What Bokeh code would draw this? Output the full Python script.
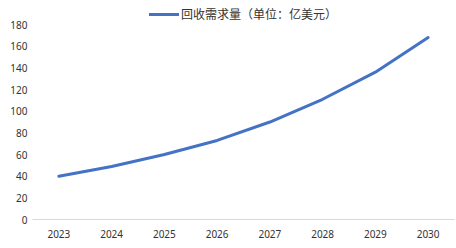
from bokeh.plotting import figure
from bokeh.models import Legend, LegendItem, Range1d
from bokeh.embed import file_html
from bokeh.resources import INLINE

years = ["2023", "2024", "2025", "2026", "2027", "2028", "2029", "2030"]
demand = [40, 49, 60, 73, 90, 111, 136, 168]
series_name = "回收需求量（单位：亿美元）"
y_ticks = [0, 20, 40, 60, 80, 100, 120, 140, 160, 180]

# frame extends above the 180 line to hold the legend
p = figure(width=456, height=248, x_range=years, y_range=Range1d(0, 198.5),
           output_backend="svg", toolbar_location=None,
           min_border_left=32, min_border_right=2, min_border_top=4, min_border_bottom=29)
p.outline_line_color = None
p.background_fill_color = "white"
p.border_fill_color = "white"
p.xgrid.grid_line_color = None
p.ygrid.grid_line_color = None

r = p.line(years, demand, line_color="#4472C4", line_width=3, line_join="round", line_cap="round")

p.yaxis.ticker = y_ticks
p.yaxis.axis_line_color = None
p.yaxis.major_tick_line_color = None
p.yaxis.minor_tick_line_color = None
p.yaxis.major_tick_in = 0
p.yaxis.major_tick_out = 0
p.yaxis.major_label_standoff = 5
p.yaxis.major_label_text_font = "Noto Sans"
p.yaxis.major_label_text_font_size = "10px"
p.yaxis.major_label_text_color = "#333333"

p.xaxis.axis_line_color = "#D9D9D9"
p.xaxis.axis_line_width = 1
p.xaxis.major_tick_line_color = None
p.xaxis.minor_tick_line_color = None
p.xaxis.major_tick_in = 0
p.xaxis.major_tick_out = 0
p.xaxis.major_label_standoff = 10
p.xaxis.major_label_text_font = "Noto Sans"
p.xaxis.major_label_text_font_size = "10px"
p.xaxis.major_label_text_color = "#333333"

legend = Legend(items=[LegendItem(label=series_name, renderers=[r])],
                location="top_center", orientation="horizontal",
                glyph_width=30, glyph_height=16, label_standoff=2,
                padding=0, margin=1, spacing=0,
                border_line_color=None, background_fill_alpha=0,
                label_text_font="Noto Sans CJK SC", label_text_font_size="12px",
                label_text_color="#333333")
p.add_layout(legend, "center")

open("out.html", "w").write(file_html(p, INLINE))
